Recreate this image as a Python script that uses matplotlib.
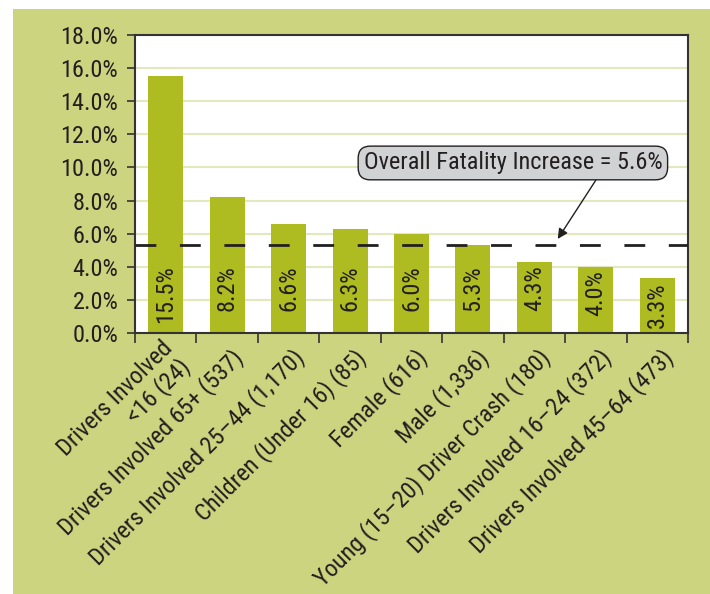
import matplotlib
matplotlib.use("Agg")
import matplotlib.pyplot as plt
from matplotlib.patches import Rectangle
from matplotlib.transforms import ScaledTranslation

categories = ["Drivers Involved\n<16 (24)", "Drivers Involved 65+ (537)",
              "Drivers Involved 25\u201344 (1,170)", "Children (Under 16) (85)",
              "Female (616)", "Male (1,336)", "Young (15\u201320) Driver Crash (180)",
              "Drivers Involved 16\u201324 (372)", "Drivers Involved 45\u201364 (473)"]
values = [15.5, 8.2, 6.6, 6.3, 6.0, 5.3, 4.3, 4.0, 3.3]
bar_labels = ["15.5%", "8.2%", "6.6%", "6.3%", "6.0%", "5.3%", "4.3%", "4.0%", "3.3%"]
overall_line = 5.3
overall_text = "Overall Fatality Increase = 5.6%"
yticks = [0, 2, 4, 6, 8, 10, 12, 14, 16, 18]

plt.rcParams['font.family'] = ['Roboto Condensed', 'DejaVu Sans']
plt.rcParams['font.weight'] = 400

bg = "#cdd47f"
bar_c = "#aebb21"
grid_c = "#e3e8bf"
txt_c = "#231f20"
FS = 17.5

fig = plt.figure(figsize=(7.1, 5.94), dpi=100, facecolor="white")
bgrect = Rectangle((13/710, 0), 1 - 13/710, 1 - 9/594, transform=fig.transFigure,
                   facecolor=bg, edgecolor="none", zorder=-5)
fig.add_artist(bgrect)
ax = fig.add_axes([135/710, 1 - 333/594, (688-135)/710, (333-35)/594])
ax.set_zorder(2)
ax.set_facecolor("white")

x = list(range(len(values)))
ax.bar(x, values, width=0.57, color=bar_c, zorder=2)
ax.set_xlim(-0.5, len(values) - 0.5)
ax.set_ylim(0, 18)
ax.set_yticks(yticks)
ax.set_yticklabels([f"{v:.1f}%" for v in yticks], fontsize=FS, color=txt_c)
ax.yaxis.grid(True, color=grid_c, linewidth=1.5, zorder=1)
ax.set_axisbelow(True)
ax.tick_params(axis='y', length=6, width=1.2, color="#333333", pad=6)

ax.set_xticks([i - 0.5 for i in range(len(values) + 1)])
ax.set_xticklabels([])
ax.tick_params(axis='x', which='major', length=7, width=1.2, color="#333333")

off = ScaledTranslation(12/100, -21/100, fig.dpi_scale_trans)
for i, lab in enumerate(categories):
    ax.text(i, 0, lab, transform=ax.get_xaxis_transform() + off, rotation=45,
            rotation_mode="anchor", ha="right", va="center", multialignment="right",
            fontsize=FS, color=txt_c, linespacing=1.05, clip_on=False)

for s in ax.spines.values():
    s.set_color("#333333")
    s.set_linewidth(1.5)

for i, (v, t) in enumerate(zip(values, bar_labels)):
    ax.text(i, min(4.1, v - 0.22), t, rotation=90, ha="center", va="top", fontsize=FS,
            color=txt_c, zorder=3)

ax.axhline(overall_line, color=txt_c, linestyle=(0, (7.5, 8.5)), linewidth=2, zorder=4)

ax.annotate(overall_text, xy=(6.38, 5.68), xytext=(5.65, 10.27),
            ha="center", va="center", fontsize=FS, color=txt_c,
            bbox=dict(boxstyle="round,pad=0.22,rounding_size=0.5", fc="#d1d2d4", ec=txt_c, lw=1),
            arrowprops=dict(arrowstyle="-|>", color=txt_c, lw=1, relpos=(0.79, 0),
                            shrinkA=0, shrinkB=0, mutation_scale=15),
            zorder=5)

fig.savefig("out.png", dpi=100, facecolor=fig.get_facecolor())
